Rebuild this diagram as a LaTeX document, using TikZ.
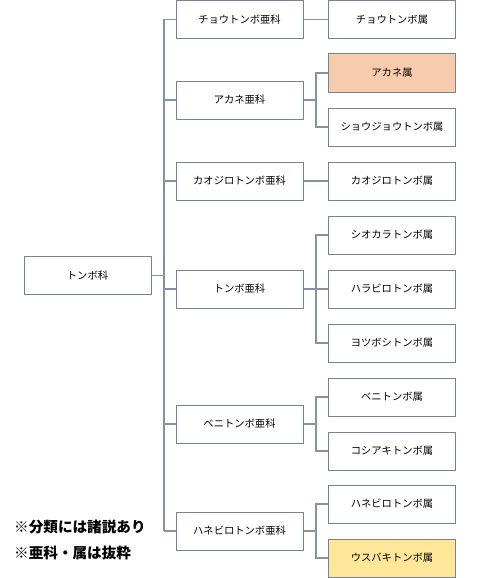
\documentclass[tikz,border=0pt]{standalone}
\usepackage{fontspec}
\setmainfont{Noto Sans CJK JP}
\usepackage{tikz}
\definecolor{linegray}{RGB}{132,146,164}
\definecolor{boxgray}{RGB}{118,130,146}
\definecolor{akanefill}{RGB}{248,203,173}
\definecolor{usubafill}{RGB}{255,230,153}
\tikzset{%
taxbox/.style  = {draw=boxgray,line width=1pt,fill=white,minimum width=127pt,
                  minimum height=38pt,inner sep=0pt,font=\fontsize{10.3}{12}\selectfont},
branch/.style  = {draw=linegray,line width=1.3pt},
notetext/.style= {anchor=west,inner sep=0pt,font=\fontsize{14.6}{17}\selectfont\bfseries}}

\begin{document}
\begin{tikzpicture}[x=1pt,y=-1pt]
   \useasboundingbox (0,0) rectangle (480,578);
   % family
   \node[taxbox] (root) at (87.5,275.5) {トンボ科};
   % subfamilies
   \node[taxbox] (sub1) at (239.5,19.5)  {チョウトンボ亜科};
   \node[taxbox] (sub2) at (239.5,100)   {アカネ亜科};
   \node[taxbox] (sub3) at (239.5,181)   {カオジロトンボ亜科};
   \node[taxbox] (sub4) at (239.5,289)   {トンボ亜科};
   \node[taxbox] (sub5) at (239.5,424)   {ベニトンボ亜科};
   \node[taxbox] (sub6) at (239.5,531)   {ハネビロトンボ亜科};
   % genera
   \node[taxbox] (gen1)  at (392,19.5) {チョウトンボ属};
   \node[taxbox,fill=akanefill] (gen2)  at (392,73)  {アカネ属};
   \node[taxbox] (gen3)  at (392,127)  {ショウジョウトンボ属};
   \node[taxbox] (gen4)  at (392,181)  {カオジロトンボ属};
   \node[taxbox] (gen5)  at (392,235)  {シオカラトンボ属};
   \node[taxbox] (gen6)  at (392,289)  {ハラビロトンボ属};
   \node[taxbox] (gen7)  at (392,343)  {ヨツボシトンボ属};
   \node[taxbox] (gen8)  at (392,397)  {ベニトンボ属};
   \node[taxbox] (gen9)  at (392,451)  {コシアキトンボ属};
   \node[taxbox] (gen10) at (392,504)  {ハネビロトンボ属};
   \node[taxbox,fill=usubafill] (gen11) at (392,558) {ウスバキトンボ属};
   % notes
   \node[notetext] (note1) at (14,527) {※分類には諸説あり};
   \node[notetext] (note2) at (14,553) {※亜科・属は抜粋};
   % connectors
   \coordinate (trunk) at (164,0);
   \coordinate (fork)  at (316,0);
   \draw[branch] (root.east) -- (root.east -| trunk);
   \draw[branch] (sub1.west -| trunk) -- (sub6.west -| trunk);
   \foreach \i in {1,...,6} { \draw[branch] (sub\i.west) -- (sub\i.west -| trunk); }
   \draw[branch] (sub1) -- (gen1);
   \draw[branch] (sub3) -- (gen4);
   \foreach \s/\a/\b in {sub2/gen2/gen3, sub4/gen5/gen7, sub5/gen8/gen9, sub6/gen10/gen11}{%
      \draw[branch] (\s.east) -- (\s.east -| fork);
      \draw[branch] (\a.west) -| (fork |- \b.west) -- (\b.west);
   }
   \draw[branch] (sub4.east -| fork) -- (gen6.west);
\end{tikzpicture}
\end{document}
